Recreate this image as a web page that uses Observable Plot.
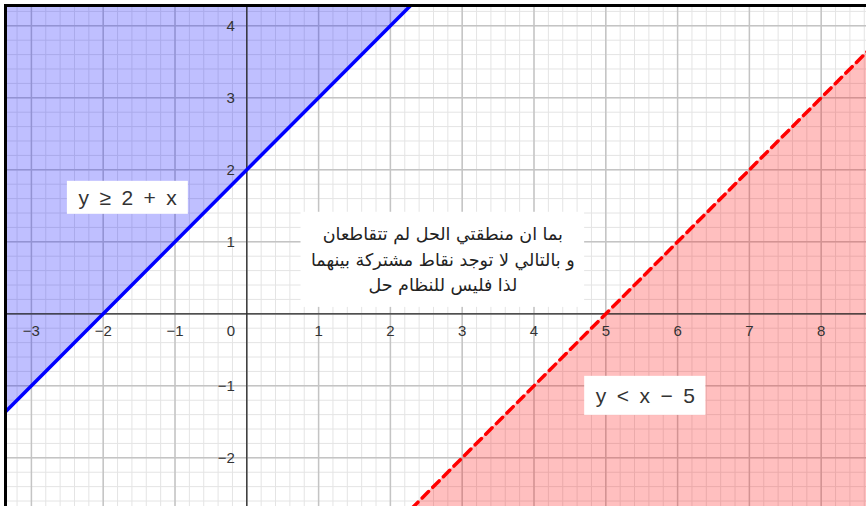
<!DOCTYPE html>
<html>
<head>
<meta charset="utf-8">
<script src="https://cdn.jsdelivr.net/npm/d3@7"></script>
<script src="https://cdn.jsdelivr.net/npm/@observablehq/plot@0.6"></script>
<style>
  html, body { margin: 0; padding: 0; background: #fff; }
  #wrap { position: absolute; left: 4px; top: 4px; border-left: 3px solid #000; border-top: 3px solid #000; }
  #wrap svg { display: block; }
</style>
</head>
<body>
<div id="wrap"></div>
<script>
// Boundary lines (two points each, clipped to the view)
const blueLine = [{x: -4, y: -2}, {x: 3, y: 5}];   // y = 2 + x (solid, region above)
const redLine  = [{x: 2, y: -3}, {x: 9, y: 4}];    // y = x - 5 (dashed, region below)

// Tick labels
const xTickValues = [-3, -2, -1, 1, 2, 3, 4, 5, 6, 7, 8];
const xTickLabels = ["−3", "−2", "−1", "1", "2", "3", "4", "5", "6", "7", "8"];
const yTickValues = [-2, -1, 1, 2, 3, 4];
const yTickLabels = ["−2", "−1", "1", "2", "3", "4"];

// Annotations
const blueLabel = ["y\u2002≥\u20022\u2002+\u2002x"];
const redLabel = ["y\u2002<\u2002x\u2002−\u20025"];
const noteText = ["بما ان منطقتي الحل لم تتقاطعان\nو بالتالي لا توجد نقاط مشتركة بينهما\nلذا فليس للنظام حل"];

const xDomain = [-3.333, 8.631];
const yDomain = [-2.676, 4.254];

const minorX = d3.range(-17, 44).map(i => i / 5);
const minorY = d3.range(-14, 22).map(i => i / 5);
const majorX = d3.range(-3, 9);
const majorY = d3.range(-2, 5);

const font = "'Liberation Sans', Arial, sans-serif";

const chart = Plot.plot({
  width: 859,
  height: 499,
  margin: 0,
  style: {background: "#fff", fontFamily: font},
  x: {domain: xDomain, axis: null},
  y: {domain: yDomain, axis: null},
  marks: [
    Plot.gridX(minorX, {stroke: "#e4e4e4", strokeOpacity: 1, strokeWidth: 1}),
    Plot.gridY(minorY, {stroke: "#e4e4e4", strokeOpacity: 1, strokeWidth: 1}),
    Plot.gridX(majorX, {stroke: "#c4c4c4", strokeOpacity: 1, strokeWidth: 1.5}),
    Plot.gridY(majorY, {stroke: "#c4c4c4", strokeOpacity: 1, strokeWidth: 1.5}),
    Plot.areaY(blueLine, {x: "x", y1: "y", y2: 6, fill: "#0000ff", fillOpacity: 0.25, clip: true}),
    Plot.areaY(redLine, {x: "x", y1: "y", y2: -4, fill: "#ff0000", fillOpacity: 0.25, clip: true}),
    Plot.ruleX([0], {stroke: "#2a2a2a", strokeWidth: 1.3}),
    Plot.ruleY([0], {stroke: "#2a2a2a", strokeWidth: 1.3}),
    Plot.line(blueLine, {x: "x", y: "y", stroke: "#0000ff", strokeWidth: 3.5, clip: true}),
    Plot.line(redLine, {x: "x", y: "y", stroke: "#ff0000", strokeWidth: 3.5, strokeDasharray: "9,6", clip: true}),
    Plot.text(xTickValues, {x: d => d, y: 0, text: (d, i) => xTickLabels[i], dy: 17, fontSize: 15, fill: "#333"}),
    Plot.text(yTickValues, {x: 0, y: d => d, text: (d, i) => yTickLabels[i], dx: -12, textAnchor: "end", fontSize: 15, fill: "#333"}),
    Plot.text(["0"], {x: 0, y: 0, dx: -16, dy: 17, fontSize: 15, fill: "#333"}),
    Plot.text(blueLabel, {x: -1.66, y: 1.60, fontSize: 21, fill: "#333", className: "box-eq"}),
    Plot.text(redLabel, {x: 5.55, y: -1.15, fontSize: 21, fill: "#333", className: "box-eq2"}),
    Plot.text(noteText, {x: 2.73, y: 0.78, fontSize: 17.5, lineHeight: 1.46, fill: "#222",
      fontFamily: "'DejaVu Sans', sans-serif", className: "box-ar"})
  ]
});

document.getElementById("wrap").appendChild(chart);

function boxBehind(selector, padX, padY) {
  d3.select(chart).selectAll(selector).each(function() {
    const b = this.getBBox();
    d3.select(this.parentNode).insert("rect", () => this)
      .attr("x", b.x - padX).attr("y", b.y - padY)
      .attr("width", b.width + 2 * padX).attr("height", b.height + 2 * padY)
      .attr("fill", "#fff");
  });
}
boxBehind("g.box-eq", 11, 5);
boxBehind("g.box-eq2", 11, 8);
boxBehind("g.box-ar", 10, 12);
</script>
</body>
</html>
